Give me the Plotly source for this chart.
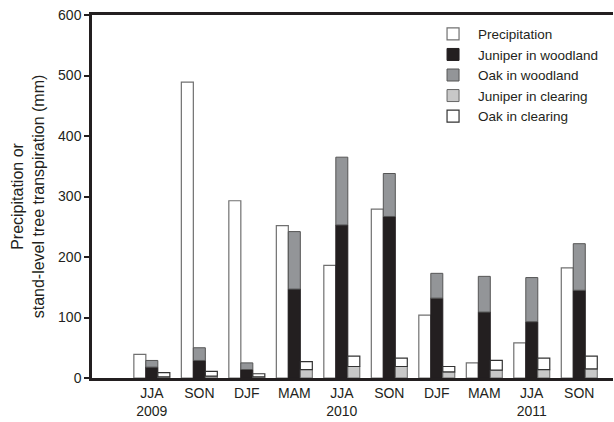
import plotly.graph_objects as go

seasons = ["JJA<br>2009", "SON", "DJF", "MAM", "JJA<br>2010", "SON", "DJF", "MAM", "JJA<br>2011", "SON"]
precipitation = [39, 489, 293, 252, 186, 279, 104, 25, 58, 182]
juniper_woodland = [18, 29, 14, 147, 253, 267, 132, 109, 93, 145]
woodland_total = [29, 50, 25, 242, 365, 338, 173, 168, 166, 222]
oak_woodland = [t - j for t, j in zip(woodland_total, juniper_woodland)]
juniper_clearing = [2, 3, 2, 14, 19, 19, 10, 13, 14, 15]
clearing_total = [9, 11, 7, 27, 36, 33, 19, 29, 33, 36]
oak_clearing = [t - j for t, j in zip(clearing_total, juniper_clearing)]
y_ticks = [0, 100, 200, 300, 400, 500, 600]

x = list(range(len(seasons)))
w = 0.2526
font_family = "Arial, Liberation Sans, sans-serif"
ink = "#231f20"

fig = go.Figure()
fig.add_trace(go.Bar(x=x, y=precipitation, name="Precipitation", width=w, offset=-1.5 * w,
                     marker=dict(color="white", line=dict(color="#707070", width=1.2))))
fig.add_trace(go.Bar(x=x, y=juniper_woodland, name="Juniper in woodland", width=w, offset=-0.5 * w,
                     marker=dict(color=ink, line=dict(color=ink, width=1))))
fig.add_trace(go.Bar(x=x, y=oak_woodland, base=juniper_woodland, name="Oak in woodland", width=w, offset=-0.5 * w,
                     marker=dict(color="#939598", line=dict(color="#555555", width=1))))
fig.add_trace(go.Bar(x=x, y=juniper_clearing, name="Juniper in clearing", width=w, offset=0.5 * w,
                     marker=dict(color="#c8c8c8", line=dict(color="#666666", width=1))))
fig.add_trace(go.Bar(x=x, y=oak_clearing, base=juniper_clearing, name="Oak in clearing", width=w, offset=0.5 * w,
                     marker=dict(color="white", line=dict(color="#333333", width=1.2))))

fig.update_layout(
    width=614, height=422,
    margin=dict(l=92, r=1, t=15, b=44),
    barmode="overlay",
    plot_bgcolor="white", paper_bgcolor="white",
    font=dict(family=font_family, size=14, color=ink),
    showlegend=True,
    legend=dict(x=0.645, y=0.99, xanchor="left", yanchor="top",
                bgcolor="rgba(0,0,0,0)", font=dict(size=13.5, color=ink),
                tracegroupgap=0, itemwidth=40, traceorder="normal"),
    xaxis=dict(range=[-1.26, 9.71], tickmode="array", tickvals=x, ticktext=seasons,
               showline=True, linecolor=ink, linewidth=2.5, mirror=True,
               ticks="", showgrid=False, zeroline=False,
               tickfont=dict(size=14, color=ink)),
    yaxis=dict(range=[0, 600], tickmode="array", tickvals=y_ticks,
               showline=True, linecolor=ink, linewidth=2.5,
               ticks="outside", ticklen=5, tickwidth=1.5, tickcolor=ink,
               showgrid=False, zeroline=False,
               tickfont=dict(size=14, color=ink),
               title=dict(text="Precipitation or<br>stand-level tree transpiration (mm)",
                          font=dict(size=16, color=ink), standoff=10)),
)

fig.write_html("out.html", post_script="document.body.style.margin='0';",
               config={"displayModeBar": False})
